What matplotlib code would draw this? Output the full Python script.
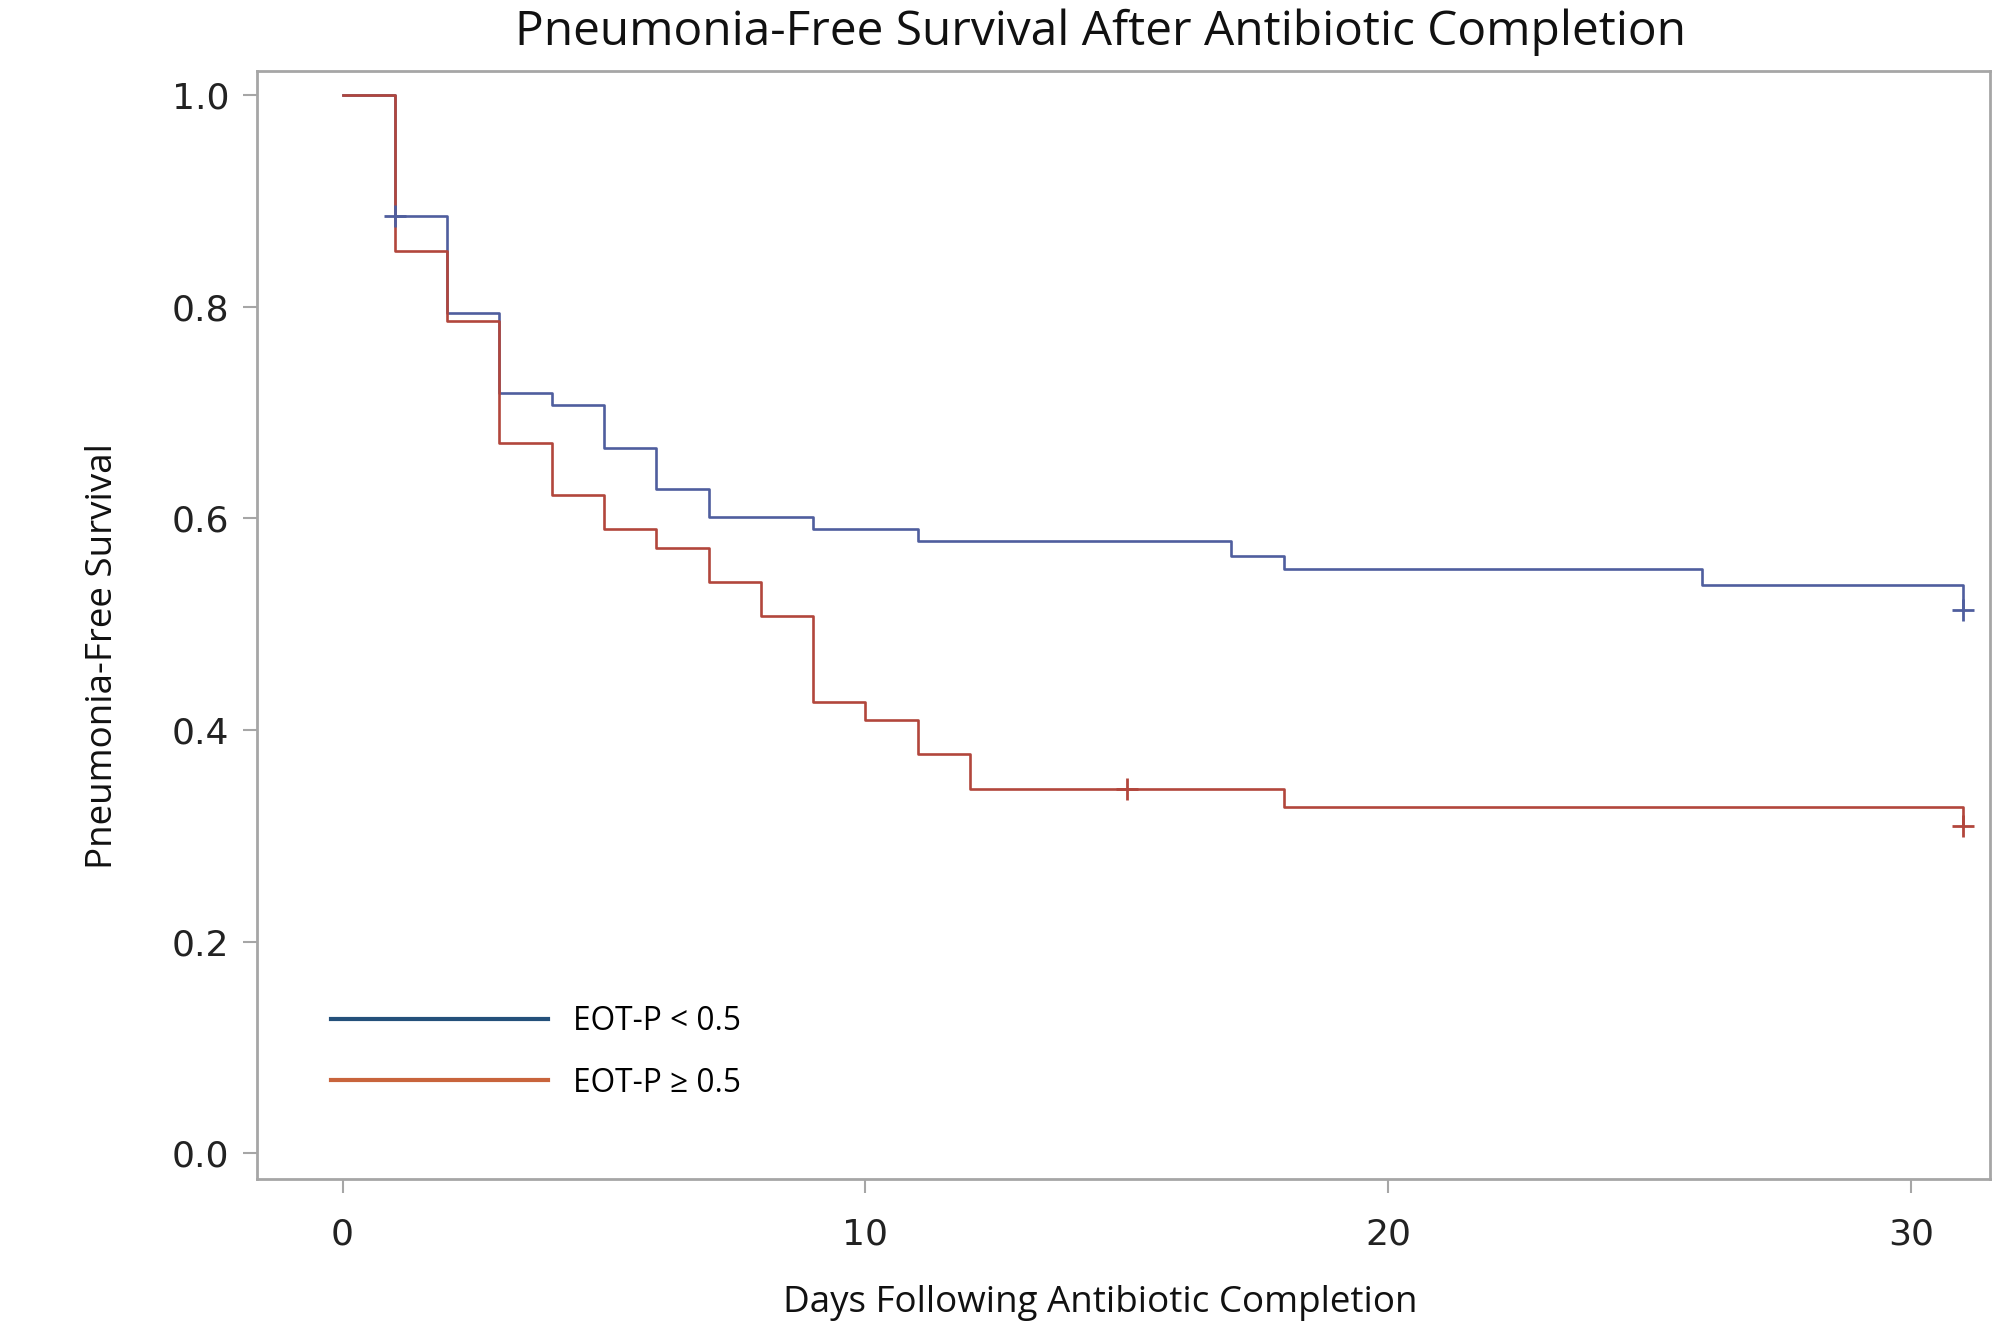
import matplotlib
matplotlib.use("Agg")
import matplotlib.pyplot as plt
from matplotlib.lines import Line2D

# step data (value holds from that day to the next)
low_days = [0, 1, 2, 3, 4, 5, 6, 7, 9, 11, 17, 18, 26, 31]
low_surv = [1.0, 0.886, 0.794, 0.718, 0.707, 0.666, 0.628, 0.601, 0.590, 0.579, 0.564, 0.552, 0.537, 0.513]
low_censor_days = [1, 31]
low_censor_surv = [0.886, 0.513]

high_days = [0, 1, 2, 3, 4, 5, 6, 7, 8, 9, 10, 11, 12, 18, 31]
high_surv = [1.0, 0.853, 0.786, 0.671, 0.622, 0.590, 0.572, 0.540, 0.508, 0.426, 0.409, 0.377, 0.344, 0.327, 0.309]
high_censor_days = [15, 31]
high_censor_surv = [0.344, 0.309]

labels = ["EOT-P < 0.5", "EOT-P \u2265 0.5"]
x_ticks = [0, 10, 20, 30]
y_ticks = [0.0, 0.2, 0.4, 0.6, 0.8, 1.0]

blue = "#4f5e9e"
red = "#b2463c"
legend_blue = "#24507a"
legend_red = "#c8643c"
frame_grey = "#a6a6a6"

fig = plt.figure(figsize=(20.13, 13.22), dpi=100)
ax = fig.add_axes([0.1276, 0.1085, 0.861, 0.838])

ax.step(low_days, low_surv, where="post", color=blue, lw=1.9, zorder=2)
ax.step(high_days, high_surv, where="post", color=red, lw=1.9, zorder=3)
ax.plot(low_censor_days, low_censor_surv, ls="none", marker="+", ms=16, mew=2, color=blue, zorder=4)
ax.plot(high_censor_days, high_censor_surv, ls="none", marker="+", ms=16, mew=2, color=red, zorder=4)

ax.set_xlim(-1.64, 31.51)
ax.set_ylim(-0.024, 1.023)
ax.set_xticks(x_ticks)
ax.set_yticks(y_ticks)
ax.set_yticklabels([f"{v:.1f}" for v in y_ticks])

tick_family = ["Liberation Sans Narrow", "DejaVu Sans"]
for lab in ax.get_xticklabels() + ax.get_yticklabels():
    lab.set_fontfamily(tick_family)
    lab.set_fontsize(26)
    lab.set_color("#222222")

ax.tick_params(axis="both", direction="out", length=10, width=1.5, color=frame_grey)
ax.tick_params(axis="x", pad=18)
ax.tick_params(axis="y", pad=10)
for sp in ax.spines.values():
    sp.set_color(frame_grey)
    sp.set_linewidth(2)

text_family = ["Open Sans", "DejaVu Sans"]
ax.set_title("Pneumonia-Free Survival After Antibiotic Completion",
             fontfamily=text_family, fontsize=34.5, color="#111111",
             x=0.4866, y=1.035, pad=0, va="center")
ax.set_xlabel("Days Following Antibiotic Completion", fontfamily=text_family,
              fontsize=26.5, color="#111111")
ax.xaxis.set_label_coords(0.4866, -0.112)
ax.xaxis.label.set_va("center")
ax.set_ylabel("Pneumonia-Free Survival", fontfamily=text_family,
              fontsize=26.5, color="#111111")
ax.yaxis.set_label_coords(-0.0889, 0.4716)
ax.yaxis.label.set_va("center")

handles = [Line2D([], [], color=legend_blue, lw=3),
           Line2D([], [], color=legend_red, lw=3)]
ax.legend(handles, labels, loc="center left", bbox_to_anchor=(0.0428, 0.114),
          frameon=False, borderpad=0, borderaxespad=0, handlelength=6.85,
          handletextpad=0.8, labelspacing=0.9,
          prop={"family": text_family, "size": 22.8})

fig.savefig("out.png", dpi=100)
